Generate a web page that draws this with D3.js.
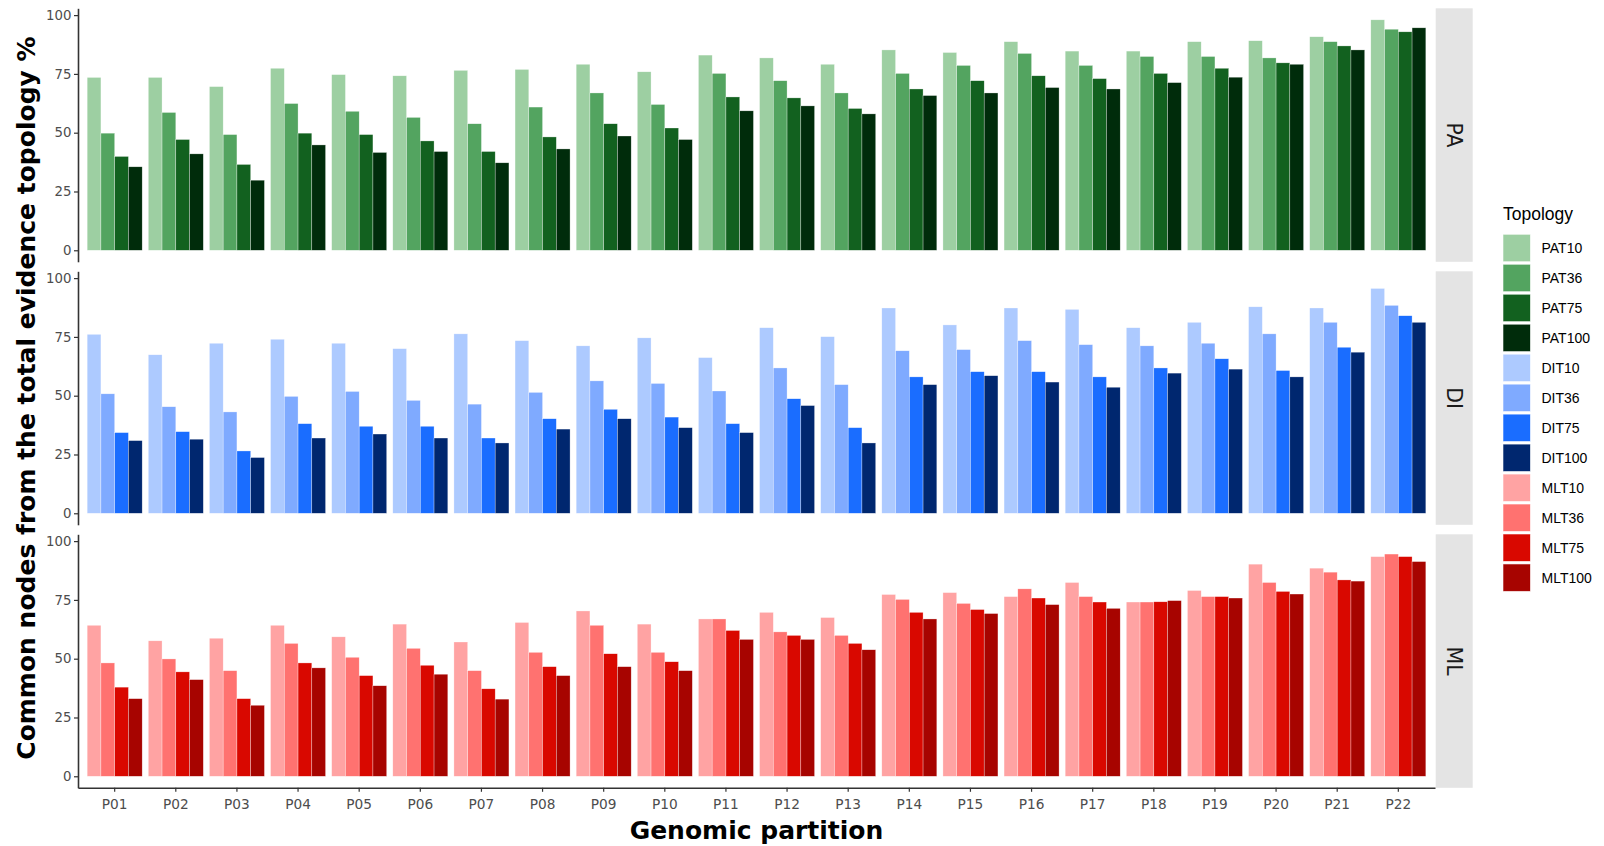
<!DOCTYPE html>
<html>
<head>
<meta charset="utf-8">
<script src="https://cdn.jsdelivr.net/npm/d3@7/dist/d3.min.js"></script>
<style>
  html, body { margin: 0; padding: 0; background: #ffffff; }
  svg { display: block; }
</style>
</head>
<body>
<svg id="chart" width="1604" height="846"></svg>
<script>
// Genomic partitions on the x axis
const partitions = ["P01","P02","P03","P04","P05","P06","P07","P08","P09","P10","P11",
                    "P12","P13","P14","P15","P16","P17","P18","P19","P20","P21","P22"];
// Facet rows (inference method) and bootstrap thresholds
const methods = ["PA", "DI", "ML"];
const thresholds = ["10", "36", "75", "100"];
const yTicks = [0, 25, 50, 75, 100];

// Percentage of common nodes with the total evidence topology
const PAT10  = [73.5,73.5,69.6,77.4,74.7,74.2,76.5,76.9,79.1,75.9,83.0,81.8,79.1,85.2,84.1,88.7,84.7,84.7,88.7,89.1,90.8,98.0];
const PAT36  = [49.8,58.6,49.2,62.4,59.1,56.5,53.8,60.9,66.9,62.0,75.2,72.1,66.9,75.2,78.6,83.7,78.6,82.4,82.4,81.8,88.7,94.0];
const PAT75  = [39.9,47.1,36.5,49.8,49.2,46.5,42.0,48.2,53.8,52.0,65.2,64.8,60.3,68.6,72.1,74.2,73.0,75.2,77.4,79.7,86.9,92.9];
const PAT100 = [35.5,41.0,29.8,44.8,41.6,42.0,37.2,43.1,48.6,47.1,59.3,61.4,58.0,65.8,66.9,69.2,68.6,71.3,73.6,79.1,85.2,94.6];

const DIT10  = [76.1,67.4,72.3,74.0,72.3,70.0,76.3,73.4,71.2,74.6,66.2,78.9,75.1,87.3,80.1,87.3,86.7,78.9,81.2,87.8,87.3,95.6];
const DIT36  = [50.8,45.3,43.1,49.7,51.8,48.0,46.4,51.4,56.3,55.2,52.0,61.8,54.7,69.1,69.6,73.4,71.7,71.2,72.3,76.3,81.2,88.4];
const DIT75  = [34.3,34.7,26.5,38.1,37.0,37.0,32.0,40.2,44.2,40.9,38.1,48.7,36.4,58.0,60.2,60.2,58.0,61.8,65.7,60.7,70.6,84.0];
const DIT100 = [30.9,31.5,23.7,32.0,33.7,32.0,29.9,35.8,40.2,36.4,34.3,45.8,29.9,54.7,58.5,55.8,53.6,59.6,61.3,58.0,68.5,81.2];

const MLT10  = [64.2,57.6,58.7,64.2,59.3,64.7,57.1,65.4,70.3,64.7,66.9,69.7,67.5,77.3,78.1,76.4,82.4,74.1,79.0,90.2,88.5,93.4];
const MLT36  = [48.2,49.9,44.9,56.5,50.6,54.4,44.9,52.7,64.2,52.7,66.9,61.4,59.9,75.2,73.5,79.7,76.4,74.1,76.4,82.4,86.8,94.5];
const MLT75  = [37.9,44.4,33.0,48.2,42.8,47.2,37.2,46.6,52.1,48.7,62.0,59.9,56.5,69.7,70.9,75.8,74.1,74.2,76.4,78.6,83.5,93.4];
const MLT100 = [33.0,41.1,30.2,46.1,38.5,43.4,32.8,42.8,46.6,44.9,58.2,58.2,53.8,66.9,69.2,73.0,71.4,74.7,75.8,77.5,83.0,91.3];

// Topology series per method, in legend order
const seriesByMethod = {
  PA: [["PAT10", PAT10], ["PAT36", PAT36], ["PAT75", PAT75], ["PAT100", PAT100]],
  DI: [["DIT10", DIT10], ["DIT36", DIT36], ["DIT75", DIT75], ["DIT100", DIT100]],
  ML: [["MLT10", MLT10], ["MLT36", MLT36], ["MLT75", MLT75], ["MLT100", MLT100]]
};

const fillColours = {
  PAT10: "#9dcfa2", PAT36: "#53a460", PAT75: "#12611f", PAT100: "#002c0b",
  DIT10: "#adcaff", DIT36: "#7faaff", DIT75: "#1a6dff", DIT100: "#00276f",
  MLT10: "#ffa3a3", MLT36: "#ff7270", MLT75: "#d90800", MLT100: "#a70400"
};

// ---- layout ----
const svg = d3.select("#chart");
const plotLeft = 78, plotRight = 1435;
const panelTop = 8.3, panelH = 253.5, panelGap = 9.5;
const stripW = 37;

const allValues = Object.values(seriesByMethod).flat().flatMap(s => s[1]);
const vmax = d3.max(allValues);
const yDomain = [0 - 0.05 * vmax, vmax * 1.05];

const x = d3.scaleBand().domain(partitions).range([plotLeft, plotRight])
  .paddingInner(0.1).paddingOuter(0.15);
const xSub = d3.scaleBand().domain(thresholds).range([0, x.bandwidth()]);

const axisColour = "#333333";
const tickTextColour = "#4d4d4d";

methods.forEach((m, i) => {
  const top = panelTop + i * (panelH + panelGap);
  const bottom = top + panelH;
  const y = d3.scaleLinear().domain(yDomain).range([bottom, top]);
  const g = svg.append("g").attr("class", "panel-" + m);

  // bars
  seriesByMethod[m].forEach(([name, vals], k) => {
    g.append("g").selectAll("rect")
      .data(vals)
      .join("rect")
      .attr("x", (d, j) => x(partitions[j]) + xSub(thresholds[k]))
      .attr("y", d => y(d))
      .attr("width", xSub.bandwidth())
      .attr("height", d => y(0) - y(d))
      .attr("fill", fillColours[name])
      .attr("stroke", "#ffffff")
      .attr("stroke-opacity", 0.6)
      .attr("stroke-width", 0.5);
  });

  // y axis
  const ya = g.append("g")
    .attr("transform", `translate(${plotLeft},0)`)
    .call(d3.axisLeft(y).tickValues(yTicks).tickSize(4).tickSizeOuter(0).tickPadding(2.5));
  ya.select(".domain").attr("stroke", axisColour).attr("stroke-width", 1.6);
  ya.selectAll(".tick line").attr("stroke", axisColour).attr("stroke-width", 1.2);
  ya.selectAll(".tick text").attr("fill", tickTextColour)
    .style("font-family", "'DejaVu Sans', sans-serif").style("font-size", "13.3px");

  // facet strip
  g.append("rect")
    .attr("x", plotRight + 0.7).attr("y", top)
    .attr("width", stripW).attr("height", panelH)
    .attr("fill", "#e4e4e4");
  g.append("text")
    .attr("transform", `translate(${plotRight + 0.7 + stripW / 2},${(top + bottom) / 2}) rotate(90)`)
    .attr("text-anchor", "middle").attr("dy", "0.36em")
    .attr("fill", "#1a1a1a")
    .style("font-family", "'DejaVu Sans', sans-serif").style("font-size", "20.5px")
    .text(m);

  // x axis on the bottom row only
  if (i === methods.length - 1) {
    const xa = g.append("g")
      .attr("transform", `translate(0,${bottom})`)
      .call(d3.axisBottom(x).tickSize(4).tickSizeOuter(0).tickPadding(7));
    xa.select(".domain").attr("stroke", axisColour).attr("stroke-width", 1.6);
    xa.selectAll(".tick line").attr("stroke", axisColour).attr("stroke-width", 1.2);
    xa.selectAll(".tick text").attr("fill", tickTextColour)
      .style("font-family", "'DejaVu Sans', sans-serif").style("font-size", "13.7px");
  }
});

// axis titles
const plotBottom = panelTop + 3 * panelH + 2 * panelGap;
svg.append("text")
  .attr("x", (plotLeft + plotRight) / 2).attr("y", 839)
  .attr("text-anchor", "middle").attr("fill", "#000")
  .style("font-family", "'DejaVu Sans', sans-serif").style("font-weight", "bold").style("font-size", "25px")
  .text("Genomic partition");

svg.append("text")
  .attr("transform", `translate(35,${(panelTop + plotBottom) / 2}) rotate(-90)`)
  .attr("text-anchor", "middle").attr("fill", "#000")
  .style("font-family", "'DejaVu Sans', sans-serif").style("font-weight", "bold").style("font-size", "25px")
  .text("Common nodes from the total evidence topology %");

// legend
const legendNames = methods.flatMap(m => seriesByMethod[m].map(s => s[0]));
const legend = svg.append("g").attr("transform", "translate(1503,0)");
legend.append("text")
  .attr("x", 0).attr("y", 220)
  .attr("fill", "#000")
  .style("font-family", "'Liberation Sans', Arial, sans-serif").style("font-size", "17.5px")
  .text("Topology");
const key = legend.selectAll("g.key").data(legendNames).join("g")
  .attr("class", "key")
  .attr("transform", (d, i) => `translate(0,${234.3 + i * 29.97})`);
key.append("rect")
  .attr("width", 27.4).attr("height", 27.4)
  .attr("fill", d => fillColours[d])
  .attr("stroke", "#ffffff").attr("stroke-opacity", 0.7).attr("stroke-width", 0.8);
key.append("text")
  .attr("x", 38.5).attr("y", 13.7).attr("dy", "0.36em")
  .attr("fill", "#000")
  .style("font-family", "'Liberation Sans', Arial, sans-serif").style("font-size", "14px")
  .text(d => d);
</script>
</body>
</html>
